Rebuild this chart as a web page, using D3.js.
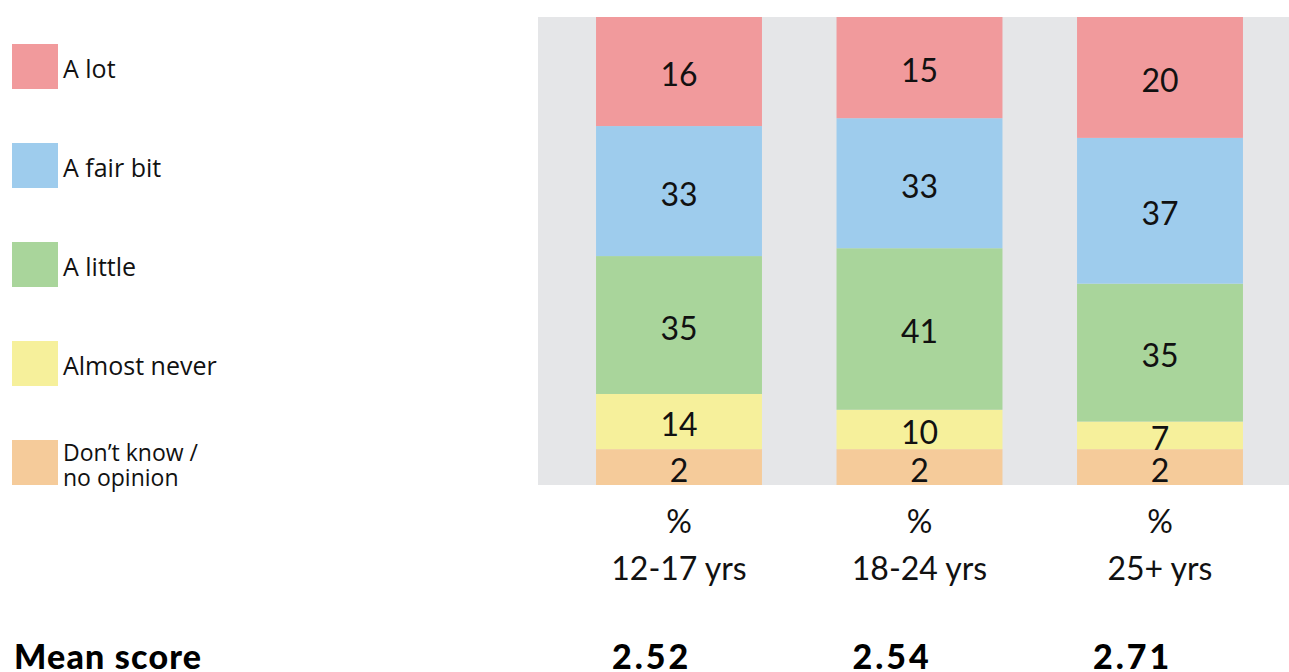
<!DOCTYPE html>
<html><head><meta charset="utf-8">
<script src="https://cdn.jsdelivr.net/npm/d3@7"></script>
<style>body{margin:0;background:#fff;}svg{display:block;}</style>
</head><body>
<svg id="c" width="1289" height="672"></svg>
<script>
const categories = ["12-17 yrs", "18-24 yrs", "25+ yrs"];
const seriesNames = ["Don't know / no opinion", "Almost never", "A little", "A fair bit", "A lot"];
const dontKnow   = [2, 2, 2];
const almostNever = [14, 10, 7];
const aLittle    = [35, 41, 35];
const aFairBit   = [33, 33, 37];
const aLot       = [16, 15, 20];
const meanScores = ["2.52", "2.54", "2.71"];
const legendOrder = ["A lot", "A fair bit", "A little", "Almost never", "Don't know / no opinion"];
const colors = ["#f5cb9a", "#f6f09b", "#a9d59b", "#9ecced", "#f19a9c"];

const svg = d3.select("#c");
const seriesValues = [dontKnow, almostNever, aLittle, aFairBit, aLot];
const rows = categories.map((c, i) => {
  const o = {cat: c};
  seriesNames.forEach((s, j) => o[s] = seriesValues[j][i]);
  return o;
});
const stacked = d3.stack().keys(seriesNames)(rows);

const plotTop = 17, plotBottom = 485;
const x = d3.scaleBand().domain(categories).range([558.75, 1280.25]).paddingInner(0.31).paddingOuter(0.155);
const y = d3.scaleLinear().domain([-7.1, 111.68]).range([plotBottom, plotTop]);

svg.append("rect").attr("x", 538).attr("y", plotTop).attr("width", 1289 - 538).attr("height", plotBottom - plotTop).attr("fill", "#e5e6e8");

const nS = seriesNames.length;
stacked.forEach((layer, j) => {
  const g = svg.append("g");
  layer.forEach((d, i) => {
    const y0 = j === 0 ? plotBottom : y(d[0]);
    const y1 = j === nS - 1 ? plotTop : y(d[1]);
    const cx = x(categories[i]) + x.bandwidth() / 2;
    g.append("rect").attr("x", x(categories[i])).attr("width", x.bandwidth())
      .attr("y", y1).attr("height", y0 - y1).attr("fill", colors[j]);
    g.append("text").attr("x", cx).attr("y", (y0 + y1) / 2 + 2)
      .attr("text-anchor", "middle").attr("dominant-baseline", "central")
      .attr("font-family", "Lato, 'Open Sans', sans-serif").attr("font-size", 32)
      .attr("fill", "#111").text(seriesValues[j][i]);
  });
});

// category labels
categories.forEach((c, i) => {
  const cx = x(c) + x.bandwidth() / 2;
  svg.append("text").attr("x", cx).attr("y", 520).attr("text-anchor", "middle").attr("dominant-baseline", "central")
    .attr("font-family", "Lato, 'Open Sans', sans-serif").attr("font-size", 32).attr("fill", "#111").text("%");
  svg.append("text").attr("x", cx).attr("y", 567).attr("text-anchor", "middle").attr("dominant-baseline", "central")
    .attr("font-family", "Lato, 'Open Sans', sans-serif").attr("font-size", 32).attr("fill", "#111").text(c);
  svg.append("text").attr("x", x(c) + 16).attr("y", 669)
    .attr("font-family", "Lato, sans-serif").attr("font-weight", 900).attr("font-size", 34)
    .attr("letter-spacing", 3).attr("fill", "#000").text(meanScores[i]);
});

svg.append("text").attr("x", 14).attr("y", 669)
  .attr("font-family", "Lato, sans-serif").attr("font-weight", 900).attr("font-size", 34)
  .attr("letter-spacing", 1.2).attr("fill", "#000").text("Mean score");

// legend
const legY = d3.scalePoint().domain(legendOrder).range([44, 440]);
legendOrder.forEach((name) => {
  const j = seriesNames.indexOf(name);
  const yy = legY(name);
  svg.append("rect").attr("x", 12).attr("y", yy).attr("width", 46).attr("height", 45).attr("fill", colors[j]);
  const t = svg.append("text").attr("x", 63).attr("font-family", "'Open Sans', sans-serif").attr("font-size", 25).attr("fill", "#111");
  if (name.includes(" / ")) {
    const parts = name.split(" / ");
    t.append("tspan").attr("x", 63).attr("y", yy + 12).attr("dominant-baseline", "central").attr("font-size", 23).text(parts[0].replace("'", "’") + " /");
    t.append("tspan").attr("x", 63).attr("y", yy + 37).attr("dominant-baseline", "central").attr("font-size", 23).text(parts[1]);
  } else {
    t.attr("y", yy + 24).attr("dominant-baseline", "central").text(name);
  }
});
</script>
</body></html>
